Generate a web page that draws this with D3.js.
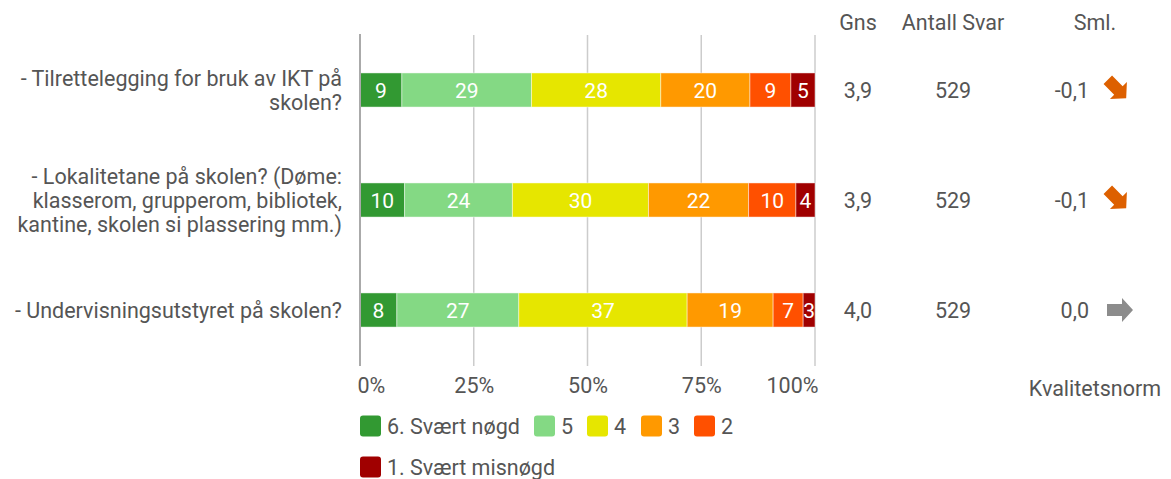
<!DOCTYPE html>
<html>
<head>
<meta charset="utf-8">
<script src="https://cdn.jsdelivr.net/npm/d3@7/dist/d3.min.js"></script>
<style>
  html, body { margin: 0; padding: 0; background: #fff; }
  svg { display: block; font-family: Roboto, "Noto Sans", sans-serif; }
</style>
</head>
<body>
<svg id="chart" width="1171" height="479"></svg>
<script>
// ---- Data ----
const categories = [
  ["- Tilrettelegging for bruk av IKT på", "skolen?"],
  ["- Lokalitetane på skolen? (Døme:", "klasserom, grupperom, bibliotek,", "kantine, skolen si plassering mm.)"],
  ["- Undervisningsutstyret på skolen?"]
];
const seriesNames = ["6. Svært nøgd", "5", "4", "3", "2", "1. Svært misnøgd"];
const seriesColors = ["#329932", "#84d984", "#e6e600", "#ff9900", "#ff5000", "#a00000"];
const s6 = [9.2, 9.8, 8.1];
const s5 = [28.5, 23.7, 26.8];
const s4 = [28.4, 29.9, 37.0];
const s3 = [19.6, 22.0, 18.9];
const s2 = [9.0, 10.4, 6.6];
const s1 = [5.3, 4.2, 2.6];
const gns = ["3,9", "3,9", "4,0"];
const antallSvar = ["529", "529", "529"];
const sml = ["-0,1", "-0,1", "0,0"];
const trend = ["down", "down", "flat"];
const tickValues = [0, 25, 50, 75, 100];
const tickLabels = ["0%", "25%", "50%", "75%", "100%"];

// ---- Build table ----
const seriesArrays = [s6, s5, s4, s3, s2, s1];
const rows = categories.map((c, i) => {
  const r = { idx: i };
  seriesNames.forEach((n, j) => r[n] = seriesArrays[j][i]);
  return r;
});

const svg = d3.select("#chart");
const textColor = "#555555";
const fs = 21.5;

const x = d3.scaleLinear().domain([0, 100]).range([360, 815]);
const y = d3.scaleBand().domain(d3.range(categories.length)).range([35, 365]).paddingInner(0.69).paddingOuter(0.345);

// gridlines
svg.append("g").selectAll("line").data(tickValues.slice(1)).join("line")
  .attr("x1", d => x(d)).attr("x2", d => x(d))
  .attr("y1", 35).attr("y2", 366)
  .attr("stroke", "#cccccc").attr("stroke-width", 1.5);

// stacked bars
const stack = d3.stack().keys(seriesNames);
const stacked = stack(rows);
const color = d3.scaleOrdinal().domain(seriesNames).range(seriesColors);

const layers = svg.append("g").selectAll("g").data(stacked).join("g")
  .attr("fill", d => color(d.key));
layers.selectAll("rect").data(d => d).join("rect")
  .attr("x", d => x(d[0]))
  .attr("y", d => y(d.data.idx))
  .attr("width", d => x(d[1]) - x(d[0]))
  .attr("height", y.bandwidth())
  .attr("stroke", "rgba(255,255,255,0.45)")
  .attr("stroke-width", 1);

layers.selectAll("text").data(d => d).join("text")
  .attr("x", d => (x(d[0]) + x(d[1])) / 2)
  .attr("y", d => y(d.data.idx) + y.bandwidth() / 2)
  .attr("dy", "0.36em")
  .attr("text-anchor", "middle")
  .attr("fill", "#ffffff")
  .attr("font-size", 21)
  .text(d => Math.round(d[1] - d[0]));

// left axis line
svg.append("line")
  .attr("x1", x(0)).attr("x2", x(0))
  .attr("y1", 34).attr("y2", 366)
  .attr("stroke", "#aaaaaa").attr("stroke-width", 2);

// tick labels
const axis = d3.axisBottom(x).tickValues(tickValues).tickFormat((d, i) => tickLabels[i]).tickSize(0).tickPadding(0);
const axG = svg.append("g").attr("transform", "translate(0,378)").call(axis);
axG.select(".domain").remove();
axG.selectAll("text")
  .attr("font-size", fs).attr("fill", textColor)
  .attr("font-family", "Roboto, sans-serif")
  .attr("dy", "0.71em")
  .attr("text-anchor", (d, i) => i === 0 ? "start" : (i === tickValues.length - 1 ? "end" : "middle"))
  .attr("x", (d, i) => i === 0 ? -3 : (i === tickValues.length - 1 ? 3 : 0));

// category labels
const lineH = 24;
const catG = svg.append("g");
categories.forEach((lines, i) => {
  const cy = y(i) + y.bandwidth() / 2;
  const t = catG.append("text")
    .attr("text-anchor", "end").attr("font-size", fs).attr("fill", textColor);
  lines.forEach((ln, k) => {
    t.append("tspan").attr("x", 342)
      .attr("y", cy + (k - (lines.length - 1) / 2) * lineH)
      .attr("dy", "0.36em").text(ln);
  });
});

// headers
const headers = [{ t: "Gns", x: 858 }, { t: "Antall Svar", x: 953 }, { t: "Sml.", x: 1095 }];
svg.append("g").selectAll("text").data(headers).join("text")
  .attr("x", d => d.x).attr("y", 22).attr("dy", "0.36em")
  .attr("text-anchor", "middle").attr("font-size", fs).attr("fill", textColor)
  .text(d => d.t);

// columns
const colG = svg.append("g");
categories.forEach((c, i) => {
  const cy = y(i) + y.bandwidth() / 2;
  colG.append("text").attr("x", 858).attr("y", cy).attr("dy", "0.36em")
    .attr("text-anchor", "middle").attr("font-size", fs).attr("fill", textColor).text(gns[i]);
  colG.append("text").attr("x", 953).attr("y", cy).attr("dy", "0.36em")
    .attr("text-anchor", "middle").attr("font-size", fs).attr("fill", textColor).text(antallSvar[i]);
  colG.append("text").attr("x", 1089).attr("y", cy).attr("dy", "0.36em")
    .attr("text-anchor", "end").attr("font-size", fs).attr("fill", textColor).text(sml[i]);
  // arrow: shaft + head, pointing right, centred at origin
  const arrowPath = "M-13,-6 L2,-6 L2,-12 L13,0 L2,12 L2,6 L-13,6 Z";
  if (trend[i] === "flat") {
    colG.append("path").attr("d", arrowPath)
      .attr("transform", `translate(1120,${cy})`)
      .attr("fill", "#8c8c8c");
  } else if (trend[i] === "down") {
    colG.append("path").attr("d", arrowPath)
      .attr("transform", `translate(1117,${cy - 1}) rotate(45) scale(1.0)`)
      .attr("fill", "#dd6000");
  } else {
    colG.append("path").attr("d", arrowPath)
      .attr("transform", `translate(1117,${cy + 1}) rotate(-45) scale(1.0)`)
      .attr("fill", "#33a02c");
  }
});

svg.append("text").attr("x", 1095).attr("y", 388).attr("dy", "0.36em")
  .attr("text-anchor", "middle").attr("font-size", fs).attr("fill", textColor)
  .text("Kvalitetsnorm");

// legend
const legendPos = [
  { x: 360, y: 426 }, { x: 534, y: 426 }, { x: 587, y: 426 },
  { x: 641, y: 426 }, { x: 694, y: 426 }, { x: 360, y: 467 }
];
const lg = svg.append("g").selectAll("g").data(seriesNames).join("g")
  .attr("transform", (d, i) => `translate(${legendPos[i].x},${legendPos[i].y})`);
lg.append("rect").attr("x", 0).attr("y", -10.5).attr("width", 21).attr("height", 21)
  .attr("rx", 3).attr("fill", d => color(d));
lg.append("text").attr("x", 27).attr("y", 0).attr("dy", "0.36em")
  .attr("font-size", fs).attr("fill", textColor).text(d => d);
</script>
</body>
</html>
